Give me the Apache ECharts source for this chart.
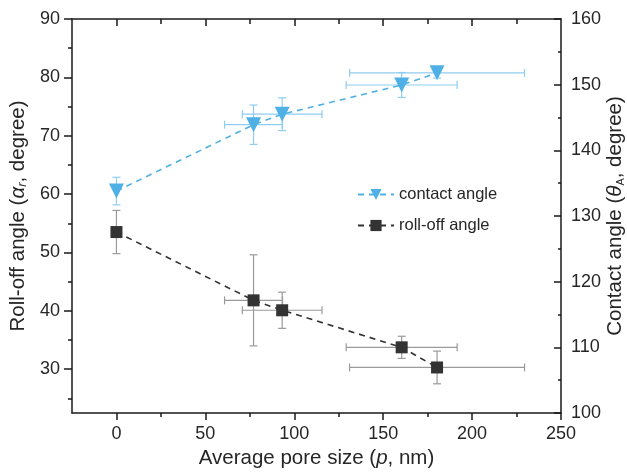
<!DOCTYPE html>
<html>
<head>
<meta charset="utf-8">
<script src="https://cdn.jsdelivr.net/npm/echarts@6/dist/echarts.min.js"></script>
<style>
  html, body { margin: 0; padding: 0; background: #fff; }
  #chart { width: 627px; height: 476px; }
</style>
</head>
<body>
<div id="chart"></div>
<script>
// Measured samples: average pore size with its spread
const poreSize = [0, 77.1, 93.2, 160.4, 180.3];
const poreSizeErr = [0, 16.3, 22.4, 31.2, 49.2];

// Apparent contact angle (right axis) and roll-off angle (left axis)
const contactAngle = [133.8, 143.9, 145.5, 149.95, 151.8];
const contactAngleErr = [2.1, 3.0, 2.5, 1.9, 0.8];
const rollOffAngle = [53.5, 41.8, 40.1, 33.75, 30.3];
const rollOffAngleErr = [3.7, 7.8, 3.1, 1.9, 2.8];

// Axis ticks
const xMajorTicks = [0, 50, 100, 150, 200, 250];
const xMinorTicks = [25, 75, 125, 175, 225];
const xTopTicks = [0, 50, 100, 150, 200];
const xTopMinorTicks = [25, 75, 125, 175, 225];
const leftMajorTicks = [30, 40, 50, 60, 70, 80, 90];
const leftMinorTicks = [25, 35, 45, 55, 65, 75, 85];

const FONT = 'Liberation Sans, Arial, sans-serif';
const AXIS_COLOR = '#1a1a1a';
const TEXT_COLOR = '#262626';
const BLUE = '#4fb0e6';
const BLUE_ERR = '#8fcdf0';
const DARK = '#333333';
const GRAY_ERR = '#9a9a9a';

function pairs(xs, ys, xe, ye) {
  return xs.map((x, i) => [x, ys[i], xe[i], ye[i]]);
}

// Error bars with caps, positioned through the series' own axes
function errorBarRenderer(color) {
  return function (params, api) {
    const x = api.value(0), y = api.value(1), xe = api.value(2), ye = api.value(3);
    const cap = 4;
    const children = [];
    const style = { stroke: color, lineWidth: 1.2, fill: null };
    if (ye > 0) {
      const top = api.coord([x, y + ye]);
      const bot = api.coord([x, y - ye]);
      children.push({ type: 'line', shape: { x1: top[0], y1: top[1], x2: bot[0], y2: bot[1] }, style });
      children.push({ type: 'line', shape: { x1: top[0] - cap, y1: top[1], x2: top[0] + cap, y2: top[1] }, style });
      children.push({ type: 'line', shape: { x1: bot[0] - cap, y1: bot[1], x2: bot[0] + cap, y2: bot[1] }, style });
    }
    if (xe > 0) {
      const l = api.coord([x - xe, y]);
      const r = api.coord([x + xe, y]);
      children.push({ type: 'line', shape: { x1: l[0], y1: l[1], x2: r[0], y2: r[1] }, style });
      children.push({ type: 'line', shape: { x1: l[0], y1: l[1] - cap, x2: l[0], y2: l[1] + cap }, style });
      children.push({ type: 'line', shape: { x1: r[0], y1: r[1] - cap, x2: r[0], y2: r[1] + cap }, style });
    }
    return { type: 'group', children };
  };
}

const chart = echarts.init(document.getElementById('chart'), null, { renderer: 'canvas' });

const axisLine = { show: true, onZero: false, lineStyle: { color: AXIS_COLOR, width: 1.5 } };
const tickLabel = { color: TEXT_COLOR, fontFamily: FONT, fontSize: 18 };
const NAME_SIZE = 20.5;

chart.setOption({
  animation: false,
  backgroundColor: '#ffffff',
  grid: { left: 72, right: 66, top: 19, bottom: 63, outerBoundsMode: 'none', containLabel: false },
  legend: {
    orient: 'vertical',
    left: 352,
    top: 181,
    itemWidth: 36,
    itemHeight: 14,
    itemGap: 14,
    textStyle: { color: TEXT_COLOR, fontFamily: FONT, fontSize: 16.5 },
    data: ['contact angle', 'roll-off angle']
  },
  xAxis: [
    {
      type: 'value', position: 'bottom', min: -25, max: 250,
      name: '{t|Average pore size (}{i|p}{t|, nm)}',
      nameLocation: 'middle', nameGap: 33,
      nameTextStyle: { rich: {
        t: { fontFamily: FONT, fontSize: NAME_SIZE, color: TEXT_COLOR },
        i: { fontFamily: FONT, fontSize: NAME_SIZE, color: TEXT_COLOR, fontStyle: 'italic' }
      } },
      axisLine,
      axisTick: { show: true, inside: false, length: 7, customValues: xMajorTicks, lineStyle: { color: AXIS_COLOR, width: 1.5 } },
      axisLabel: Object.assign({ margin: 12, customValues: xMajorTicks }, tickLabel),
      splitLine: { show: false }
    },
    {
      type: 'value', position: 'bottom', min: -25, max: 250,
      axisLine: { show: false, onZero: false },
      axisTick: { show: true, inside: false, length: 4, customValues: xMinorTicks, lineStyle: { color: AXIS_COLOR, width: 1.5 } },
      axisLabel: { show: false },
      splitLine: { show: false }
    },
    {
      type: 'value', position: 'top', min: -25, max: 250,
      axisLine,
      axisTick: { show: true, inside: true, length: 7, customValues: xTopTicks, lineStyle: { color: AXIS_COLOR, width: 1.5 } },
      axisLabel: { show: false },
      splitLine: { show: false }
    },
    {
      type: 'value', position: 'top', min: -25, max: 250,
      axisLine: { show: false, onZero: false },
      axisTick: { show: true, inside: true, length: 5, customValues: xTopMinorTicks, lineStyle: { color: AXIS_COLOR, width: 1.5 } },
      axisLabel: { show: false },
      splitLine: { show: false }
    }
  ],
  yAxis: [
    {
      type: 'value', position: 'left', min: 22.5, max: 90,
      name: '{t|Roll-off angle (}{i|α}{s|r}{t|, degree)}',
      nameLocation: 'middle', nameGap: 43, nameRotate: 90, nameMoveOverlap: false,
      nameTextStyle: { rich: {
        t: { fontFamily: FONT, fontSize: NAME_SIZE, color: TEXT_COLOR },
        i: { fontFamily: FONT, fontSize: NAME_SIZE, color: TEXT_COLOR, fontStyle: 'italic' },
        s: { fontFamily: FONT, fontSize: 13, color: TEXT_COLOR, fontStyle: 'italic', verticalAlign: 'bottom', padding: [6, 0, 0, 0] }
      } },
      axisLine,
      axisTick: { show: true, inside: false, length: 8, customValues: leftMajorTicks, lineStyle: { color: AXIS_COLOR, width: 1.5 } },
      axisLabel: Object.assign({ margin: 12, customValues: leftMajorTicks }, tickLabel),
      splitLine: { show: false }
    },
    {
      type: 'value', position: 'right', min: 100, max: 160, interval: 10,
      name: '{t|Contact angle (}{i|θ}{s|A}{t|, degree)}',
      nameLocation: 'middle', nameGap: 44, nameRotate: 90, nameMoveOverlap: false,
      nameTextStyle: { rich: {
        t: { fontFamily: FONT, fontSize: NAME_SIZE, color: TEXT_COLOR },
        i: { fontFamily: FONT, fontSize: NAME_SIZE, color: TEXT_COLOR, fontStyle: 'italic' },
        s: { fontFamily: FONT, fontSize: 11, color: TEXT_COLOR, verticalAlign: 'bottom', padding: [6, 0, 0, 0] }
      } },
      axisLine,
      axisTick: { show: true, inside: true, length: 7, lineStyle: { color: AXIS_COLOR, width: 1.5 } },
      minorTick: { show: true, splitNumber: 2, length: 3, lineStyle: { color: AXIS_COLOR, width: 1.5 } },
      axisLabel: Object.assign({ margin: 10 }, tickLabel),
      splitLine: { show: false }
    },
    {
      type: 'value', position: 'left', min: 22.5, max: 90,
      axisLine: { show: false, onZero: false },
      axisTick: { show: true, inside: false, length: 4, customValues: leftMinorTicks, lineStyle: { color: AXIS_COLOR, width: 1.5 } },
      axisLabel: { show: false },
      splitLine: { show: false }
    }
  ],
  series: [
    {
      type: 'custom', name: 'contact angle error', xAxisIndex: 0, yAxisIndex: 1,
      renderItem: errorBarRenderer(BLUE_ERR),
      encode: { x: 0, y: 1 },
      data: pairs(poreSize, contactAngle, poreSizeErr, contactAngleErr),
      z: 1, silent: true
    },
    {
      type: 'custom', name: 'roll-off angle error', xAxisIndex: 0, yAxisIndex: 0,
      renderItem: errorBarRenderer(GRAY_ERR),
      encode: { x: 0, y: 1 },
      data: pairs(poreSize, rollOffAngle, poreSizeErr, rollOffAngleErr),
      z: 1, silent: true
    },
    {
      type: 'line', name: 'contact angle', xAxisIndex: 0, yAxisIndex: 1,
      data: poreSize.map((x, i) => [x, contactAngle[i]]),
      symbol: 'triangle', symbolRotate: 180, symbolSize: 15,
      itemStyle: { color: BLUE },
      lineStyle: { color: BLUE, width: 1.6, type: [6, 5] },
      z: 3
    },
    {
      type: 'line', name: 'roll-off angle', xAxisIndex: 0, yAxisIndex: 0,
      data: poreSize.map((x, i) => [x, rollOffAngle[i]]),
      symbol: 'rect', symbolSize: 12,
      itemStyle: { color: DARK },
      lineStyle: { color: DARK, width: 1.6, type: [6, 5] },
      z: 3
    }
  ]
});
</script>
</body>
</html>
